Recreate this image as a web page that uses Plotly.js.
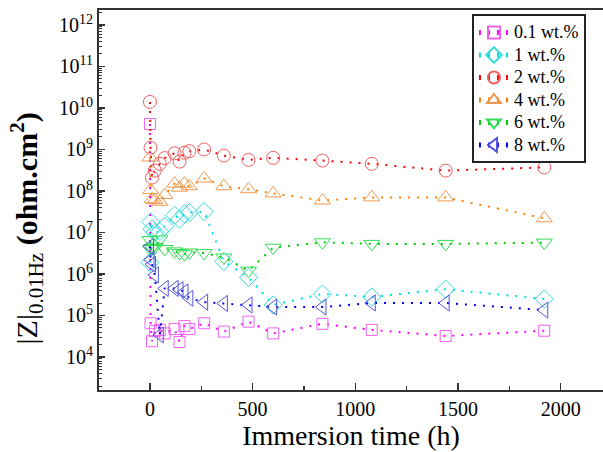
<!DOCTYPE html>
<html>
<head>
<meta charset="utf-8">
<script src="https://cdn.plot.ly/plotly-3.0.1.min.js"></script>
<style>html,body{margin:0;padding:0;background:#fff;}#chart{width:603px;height:452px;}</style>
</head>
<body>
<div id="chart"></div>
<script>
// Immersion time (h)
const times = [0, 3, 10, 24, 48, 72, 120, 144, 168, 192, 264, 360, 480, 600, 840, 1080, 1440, 1920];
// |Z| at 0.01 Hz (ohm.cm^2)
const z01 = [4.1e9, 6.5e4, 2.4e4, 4.2e4, 4.5e4, 3.7e4, 4.7e4, 2.3e4, 5.6e4, 4.7e4, 6.5e4, 4.1e4, 7.1e4, 3.7e4, 6.3e4, 4.5e4, 3.2e4, 4.3e4];
const z1 = [1.9e6, 1.8e7, 1.2e7, 1.0e7, 1.05e7, 1.4e7, 2.6e7, 2.1e7, 2.8e7, 3.0e7, 3.2e7, 2.0e6, 8.3e5, 1.8e5, 3.3e5, 2.8e5, 4.3e5, 2.5e5];
const z2 = [1.4e10, 1.1e9, 2.1e8, 3.1e8, 4.5e8, 6.2e8, 8.1e8, 5.1e8, 8.3e8, 9.1e8, 1.0e9, 7.1e8, 5.6e8, 6.3e8, 5.4e8, 4.5e8, 3.1e8, 3.7e8];
const z4 = [6.4e8, 1.05e8, 6.3e7, 6.0e7, 5.5e7, 8.0e7, 1.5e8, 1.2e8, 1.5e8, 1.3e8, 2.0e8, 1.3e8, 1.1e8, 8.7e7, 5.9e7, 7.0e7, 7.0e7, 2.2e7];
const z6 = [6.6e6, 4.0e6, 4.2e6, 4.4e6, 6.8e6, 4.0e6, 3.5e6, 3.2e6, 3.0e6, 3.3e6, 3.2e6, 2.5e6, 1.2e6, 4.3e6, 5.8e6, 5.3e6, 5.3e6, 5.7e6];
const z8 = [4.6e6, 2.2e6, 1.7e6, 9.5e5, 3.4e4, 4.5e5, 4.5e5, 4.2e5, 3.7e5, 2.6e5, 2.1e5, 1.95e5, 1.8e5, 1.6e5, 1.6e5, 2.0e5, 2.0e5, 1.35e5];

const seriesNames = ['0.1 wt.%', '1 wt.%', '2 wt.%', '4 wt.%', '6 wt.%', '8 wt.%'];
const seriesData = [z01, z1, z2, z4, z6, z8];
const lineColors = ['#ff00ff', '#00dddd', '#ff0000', '#ff8000', '#00cc00', '#0000ff'];
const markerColors = ['#f060f0', '#33dddd', '#f06060', '#f09a50', '#33dd55', '#5555dd'];
const symbols = ['square-open', 'diamond-open', 'circle-open', 'triangle-up-open', 'triangle-down-open', 'triangle-left-open'];
const sizes = [11, 14, 13, 14, 14, 14];

const yTickVals = [1e4, 1e5, 1e6, 1e7, 1e8, 1e9, 1e10, 1e11, 1e12];
const yTickText = ['10<sup>4</sup>', '10<sup>5</sup>', '10<sup>6</sup>', '10<sup>7</sup>', '10<sup>8</sup>', '10<sup>9</sup>', '10<sup>10</sup>', '10<sup>11</sup>', '10<sup>12</sup>'];

const traces = seriesData.map((ys, i) => ({
  x: times,
  y: ys,
  name: '<span style="font-size:18px">' + seriesNames[i] + '</span>',
  type: 'scatter',
  mode: 'lines+markers',
  line: {color: lineColors[i], width: 2, dash: '2px,7px'},
  marker: {symbol: symbols[i], size: sizes[i], color: markerColors[i], line: {color: markerColors[i], width: 1}}
}));

const font = 'Liberation Serif';
const layout = {
  width: 603, height: 452,
  margin: {l: 99, r: 0, t: 10, b: 62},
  paper_bgcolor: '#fff', plot_bgcolor: '#fff',
  font: {family: font, color: '#000', size: 20},
  showlegend: true,
  legend: {
    x: 0.74, y: 0.989, xanchor: 'left', yanchor: 'top',
    bgcolor: '#fff', bordercolor: '#222', borderwidth: 2,
    font: {family: font, size: 15, color: '#000'},
    itemsizing: 'constant', tracegroupgap: 0
  },
  xaxis: {
    range: [-248, 2206],
    tickvals: [0, 500, 1000, 1500, 2000],
    ticks: 'inside', ticklen: 7, tickwidth: 1.5, tickcolor: '#333',
    minor: {tickvals: [250, 750, 1250, 1750], ticks: 'inside', ticklen: 4, tickwidth: 1.2, tickcolor: '#333'},
    showline: true, linecolor: '#333', linewidth: 2, mirror: true,
    showgrid: false, zeroline: false,
    tickfont: {family: font, size: 20, color: '#000'},
    title: {text: 'Immersion time (h)', font: {family: font, size: 28, color: '#000'}, standoff: 4}
  },
  yaxis: {
    type: 'log',
    range: [3.205, 12.36],
    tickvals: yTickVals, ticktext: yTickText,
    ticks: 'inside', ticklen: 6, tickwidth: 1.5, tickcolor: '#333',
    minor: {ticks: 'inside', ticklen: 3, tickwidth: 1, tickcolor: '#333', dtick: 'D1'},
    showline: true, linecolor: '#333', linewidth: 2, mirror: false,
    showgrid: false, zeroline: false,
    tickfont: {family: font, size: 20, color: '#000'}
  },
  annotations: [{
    xref: 'paper', yref: 'paper', x: -0.143, y: 0.425,
    xanchor: 'center', yanchor: 'middle', textangle: -90, showarrow: false,
    text: '|Z|<sub>0.01Hz</sub> <b>(ohm.cm<sup>2</sup>)</b>',
    font: {family: font, size: 30, color: '#000'}
  }]
};

Plotly.newPlot('chart', traces, layout, {staticPlot: true, displayModeBar: false});
</script>
</body>
</html>
